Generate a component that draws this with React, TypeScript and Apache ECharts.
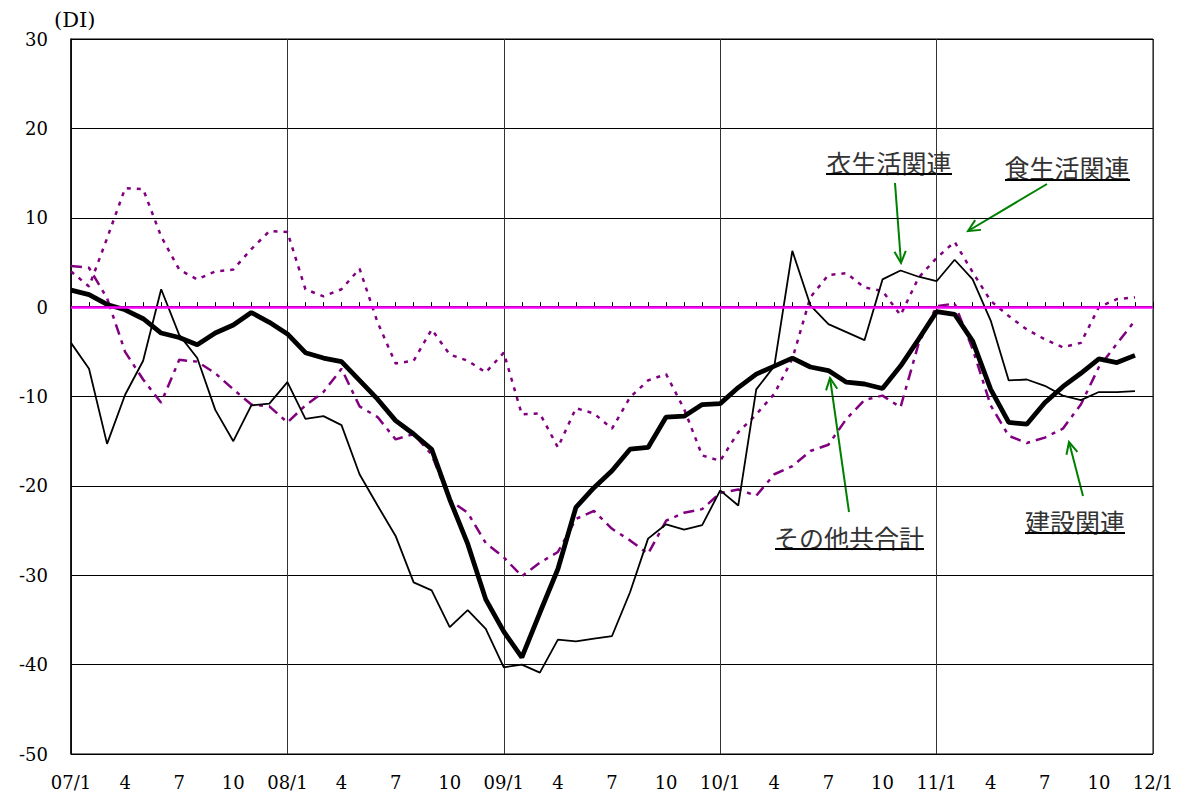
import React, { useEffect, useRef } from "react";
import * as echarts from "echarts";

// Month categories 07/1 .. 12/1 (61 points)
const categories: string[] = [
  "07/1", "2", "3", "4", "5", "6", "7", "8", "9", "10", "11", "12",
  "08/1", "2", "3", "4", "5", "6", "7", "8", "9", "10", "11", "12",
  "09/1", "2", "3", "4", "5", "6", "7", "8", "9", "10", "11", "12",
  "10/1", "2", "3", "4", "5", "6", "7", "8", "9", "10", "11", "12",
  "11/1", "2", "3", "4", "5", "6", "7", "8", "9", "10", "11", "12",
  "12/1",
];

// その他共合計 (total)
const totalDI: number[] = [
  1.9, 1.4, 0.3, -0.3, -1.3, -2.9, -3.4, -4.2, -2.9, -2.0, -0.6, -1.7,
  -3.0, -5.1, -5.7, -6.1, -8.2, -10.3, -12.7, -14.2, -15.9, -21.5, -26.5, -32.7,
  -36.3, -39.2, -34.2, -29.3, -22.4, -20.2, -18.3, -15.9, -15.7, -12.3, -12.2, -10.9,
  -10.8, -9.0, -7.5, -6.6, -5.7, -6.7, -7.1, -8.4, -8.6, -9.1, -6.6, -3.6,
  -0.5, -0.8, -3.8, -9.2, -12.9, -13.1, -10.7, -8.9, -7.4, -5.8, -6.2, -5.4,
];

// 衣生活関連 (clothing)
const clothingDI: number[] = [
  -4.0, -6.9, -15.3, -9.8, -6.0, 2.0, -3.1, -5.7, -11.5, -15.0, -11.0, -10.8,
  -8.4, -12.5, -12.2, -13.2, -18.7, -22.2, -25.6, -30.8, -31.7, -35.8, -33.9, -36.0,
  -40.3, -40.0, -40.9, -37.2, -37.4, -37.1, -36.8, -31.9, -25.9, -24.3, -24.9, -24.4,
  -20.5, -22.2, -9.2, -6.6, 6.3, 0.2, -1.9, -2.8, -3.7, 3.1, 4.1, 3.4,
  2.9, 5.3, 3.1, -1.5, -8.2, -8.1, -8.8, -9.9, -10.4, -9.5, -9.5, -9.4,
];

// 食生活関連 (food)
const foodDI: number[] = [
  4.0, 2.3, 7.7, 13.3, 13.2, 7.9, 4.2, 3.1, 4.0, 4.2, 6.5, 8.5,
  8.4, 2.0, 1.2, 2.0, 4.3, -1.7, -6.3, -6.0, -2.5, -5.3, -6.0, -7.3,
  -5.1, -12.0, -11.9, -15.7, -11.3, -11.9, -13.6, -10.1, -8.2, -7.5, -11.4, -16.6,
  -17.2, -14.0, -12.0, -9.7, -5.8, 1.1, 3.6, 3.8, 2.2, 1.8, -0.9, 3.3,
  5.5, 7.3, 3.9, 0.7, -1.0, -2.5, -3.6, -4.5, -4.0, 0.0, 0.9, 1.1,
];

// 建設関連 (construction)
const constructionDI: number[] = [
  4.6, 4.4, 1.0, -5.0, -8.1, -10.7, -5.9, -6.1, -7.4, -9.2, -10.9, -11.1,
  -12.9, -11.0, -9.5, -6.9, -11.1, -12.3, -14.8, -14.2, -16.5, -21.6, -23.0, -26.4,
  -28.0, -30.1, -28.6, -27.4, -23.7, -22.8, -24.8, -26.1, -27.6, -23.9, -23.0, -22.6,
  -20.8, -20.4, -21.1, -18.7, -17.8, -16.1, -15.4, -12.5, -10.4, -9.9, -11.2, -4.1,
  0.1, 0.4, -4.7, -11.0, -14.4, -15.2, -14.6, -13.6, -10.9, -6.7, -4.1, -1.5,
];

const yMin = -50;
const yMax = 30;
const yStep = 10;

const seriesNames = ["その他共合計", "衣生活関連", "食生活関連", "建設関連"];

type Ann = { text: string; cx: number; cy: number; ux1: number; ux2: number; uy: number; from: number[]; to: number[] };
const annotations: Ann[] = [
  { text: "衣生活関連", cx: 889, cy: 162, ux1: 826, ux2: 952, uy: 174, from: [895, 183], to: [901, 263] },
  { text: "食生活関連", cx: 1067, cy: 167, ux1: 1005, ux2: 1130, uy: 180, from: [1047, 184], to: [968, 231] },
  { text: "その他共合計", cx: 849, cy: 537, ux1: 775, ux2: 924, uy: 549, from: [849, 512], to: [830, 378] },
  { text: "建設関連", cx: 1075, cy: 521, ux1: 1025, ux2: 1125, uy: 533, from: [1083, 496], to: [1069, 442] },
];

function arrowElements(from: number[], to: number[]) {
  const [x1, y1] = from;
  const [x2, y2] = to;
  const a = Math.atan2(y2 - y1, x2 - x1);
  const L = 13;
  const w = 0.45;
  const p1 = [x2 - L * Math.cos(a - w), y2 - L * Math.sin(a - w)];
  const p2 = [x2 - L * Math.cos(a + w), y2 - L * Math.sin(a + w)];
  return [
    { type: "line", shape: { x1, y1, x2, y2 }, style: { stroke: "#008000", lineWidth: 2 } },
    { type: "polyline", shape: { points: [p1, [x2, y2], p2] }, style: { stroke: "#008000", lineWidth: 2, fill: null } },
  ];
}

export default function App() {
  const ref = useRef<HTMLDivElement>(null);
  useEffect(() => {
    if (!ref.current) return;
    const chart = echarts.init(ref.current, null, { renderer: "svg" });
    const serif = "DejaVu Serif";
    const graphics: any[] = [
      {
        type: "text",
        left: 54,
        top: 9,
        style: { text: "(DI)", font: `21px "${serif}"`, fill: "#000" },
      },
    ];
    annotations.forEach((a) => {
      graphics.push({
        type: "text",
        x: a.cx,
        y: a.cy,
        style: {
          text: a.text,
          font: '25px "Noto Sans CJK JP"',
          fill: "#333",
          align: "center",
          verticalAlign: "middle",
        },
      });
      graphics.push({
        type: "line",
        shape: { x1: a.ux1, y1: a.uy, x2: a.ux2, y2: a.uy },
        style: { stroke: "#000", lineWidth: 2 },
      });
      arrowElements(a.from, a.to).forEach((e) => graphics.push(e));
    });

    chart.setOption({
      animation: false,
      backgroundColor: "#fff",
      grid: { left: 71, right: 34, top: 39, bottom: 46, show: true, borderColor: "#000", borderWidth: 1 },
      xAxis: {
        type: "category",
        data: categories,
        boundaryGap: false,
        axisLine: { lineStyle: { color: "#000", width: 2 } },
        axisTick: { show: true, inside: true, length: 5, interval: 0, lineStyle: { color: "#000" } },
        axisLabel: {
          interval: (index: number) => index % 3 === 0,
          fontFamily: serif,
          fontSize: 18,
          color: "#000",
          margin: 19,
        },
        splitLine: {
          show: true,
          interval: (index: number) => index % 12 === 0,
          lineStyle: { color: "#333", width: 1 },
        },
      },
      yAxis: {
        type: "value",
        min: yMin,
        max: yMax,
        interval: yStep,
        axisLine: { show: true, lineStyle: { color: "#000", width: 1.5 } },
        axisTick: { show: false },
        axisLabel: { fontFamily: serif, fontSize: 18, color: "#000", margin: 23 },
        splitLine: { show: true, lineStyle: { color: "#000", width: 1 } },
      },
      series: [
        {
          name: "zero",
          type: "line",
          data: [],
          markLine: {
            silent: true,
            symbol: ["none", "none"],
            label: { show: false },
            lineStyle: { color: "#FF00FF", width: 2.5, type: "solid" },
            data: [{ yAxis: 0 }],
          },
        },
        {
          name: seriesNames[3],
          type: "line",
          data: constructionDI,
          symbol: "none",
          lineStyle: { color: "#800080", width: 2.5, type: [11, 6, 4, 6] },
        },
        {
          name: seriesNames[2],
          type: "line",
          data: foodDI,
          symbol: "none",
          lineStyle: { color: "#800080", width: 2.5, type: [4, 6] },
        },
        {
          name: seriesNames[1],
          type: "line",
          data: clothingDI,
          symbol: "none",
          lineStyle: { color: "#000", width: 1.8 },
        },
        {
          name: seriesNames[0],
          type: "line",
          data: totalDI,
          symbol: "none",
          lineStyle: { color: "#000", width: 4.8 },
        },
      ],
      graphic: graphics,
    });
    return () => chart.dispose();
  }, []);
  return (
    <div
      ref={ref}
      style={{ position: "fixed", left: 0, top: 0, width: 1187, height: 800, background: "#fff" }}
    />
  );
}
